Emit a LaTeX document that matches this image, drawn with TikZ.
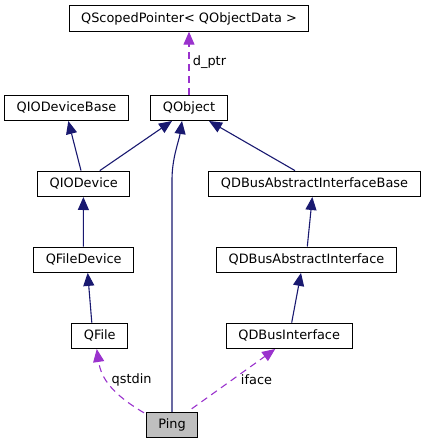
\documentclass[tikz,border=0pt]{standalone}
\usepackage{fontspec}
\setmainfont{DejaVu Sans}
\usetikzlibrary{arrows.meta}
\definecolor{inheritcol}{HTML}{191970}
\definecolor{usecol}{HTML}{9A32CD}
\tikzset{
    cls/.style={shape=rectangle,draw=black,line width=0.9pt,fill=white,inner xsep=12pt,
        minimum height=25.5pt,font=\fontsize{12.9}{15}\selectfont},
    inherit/.style={draw=inheritcol,line width=1.1pt,-{Triangle[length=13pt,width=11pt]}},
    usage/.style={draw=usecol,line width=1.1pt,dash pattern=on 7pt off 5pt,
        -{Triangle[length=13pt,width=11pt]}},
    lbl/.style={font=\fontsize{12.9}{15}\selectfont,inner sep=0pt}
}
\begin{document}
\begin{tikzpicture}[x=1pt,y=-1pt]
    \useasboundingbox (0,0) rectangle (425,444);
    % insert nodes
    \node[cls] (scoped) at (189,18.5) {QScopedPointer< QObjectData >};
    \node[cls] (iodevbase) at (66.5,107.8) {QIODeviceBase};
    \node[cls] (qobject) at (189,107.8) {QObject};
    \node[cls] (iodevice) at (83.8,183.8) {QIODevice};
    \node[cls] (dbusbase) at (314.5,183.8) {QDBusAbstractInterfaceBase};
    \node[cls] (filedevice) at (83.7,259.7) {QFileDevice};
    \node[cls] (dbusabs) at (306.5,259.7) {QDBusAbstractInterface};
    \node[cls] (qfile) at (99.8,335.8) {QFile};
    \node[cls] (dbusif) at (289.2,335.8) {QDBusInterface};
    \node[cls,fill=black!25] (ping) at (172,425) {Ping};
    % link labels
    \node[lbl] (dptrlbl) at (209.5,62) {d\_ptr};
    \node[lbl] (qstdinlbl) at (131.7,379.5) {qstdin};
    \node[lbl] (ifacelbl) at (256.5,379.5) {iface};

    % insert links
    \draw[inherit] ([xshift=-2.8pt]iodevice.north) -- ([xshift=1.8pt]iodevbase.south);
    \draw[inherit] ([xshift=16pt]iodevice.north) -- ([xshift=-17pt]qobject.south);
    \draw[inherit] ([xshift=-19.5pt]dbusbase.north) -- ([xshift=20pt]qobject.south);
    \draw[inherit] (ping.north) -- ++(0,-232) .. controls ++(0,-22) and ++(-3,20) .. ([xshift=-7pt]qobject.south);
    \draw[inherit] ([xshift=-0.4pt]filedevice.north) -- ([xshift=-0.4pt]iodevice.south);
    \draw[inherit] ([xshift=-8pt]qfile.north) -- ([xshift=4pt]filedevice.south);
    \draw[inherit] ([xshift=0.8pt]dbusabs.north) -- ([xshift=-2.2pt]dbusbase.south);
    \draw[inherit] ([xshift=2.5pt]dbusif.north) -- ([xshift=-5.5pt]dbusabs.south);
    \draw[usage] (qobject.north) -- (scoped.south);
    \draw[usage] ([xshift=-28pt,yshift=-1pt]ping.north) .. controls (112,394) and (101,378) .. ([xshift=-3pt]qfile.south);
    \draw[usage] ([xshift=19.7pt,yshift=3pt]ping.north) -- ([xshift=-14pt]dbusif.south);
\end{tikzpicture}
\end{document}
